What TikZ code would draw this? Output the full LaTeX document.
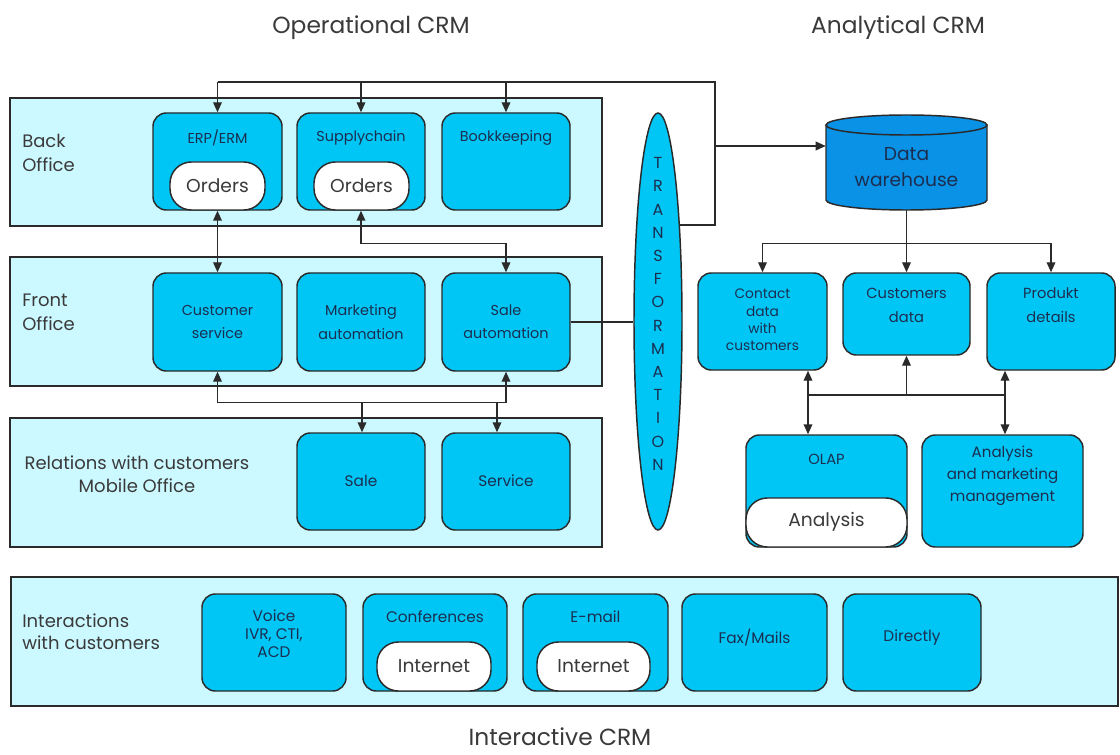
\documentclass[tikz,border=0pt]{standalone}
\usepackage{fontspec}
\setmainfont{Poppins}
\usetikzlibrary{arrows.meta,shapes.geometric,calc}
\definecolor{bandc}{HTML}{CCF8FF}
\definecolor{boxc}{HTML}{00C6F5}
\definecolor{dwc}{HTML}{0A92E6}
\definecolor{edgec}{HTML}{2A2A2A}
\definecolor{txtc}{HTML}{1C2E50}
\definecolor{gtxt}{HTML}{3A3A3A}
\tikzset{
  bandbox/.style={draw=edgec, line width=1.1pt, fill=bandc, rectangle, inner sep=0pt},
  ibox/.style={draw=edgec, line width=1.1pt, fill=boxc, rectangle, rounded corners=10pt, inner sep=0pt},
  pill/.style={draw=edgec, line width=1.1pt, fill=white, rectangle, rounded corners=16pt, inner sep=0pt},
  lbl/.style={text=gtxt, font=\fontsize{13.5}{18}\selectfont, inner sep=0pt},
  ttl/.style={text=gtxt, font=\fontsize{17.5}{20}\selectfont, inner sep=0pt},
  btxt/.style={text=txtc, font=\fontsize{10.8}{17.5}\selectfont, align=center, inner sep=0pt},
  itxt/.style={text=txtc, font=\fontsize{11.5}{13.5}\selectfont, align=center, inner sep=0pt},
  atxt/.style={text=txtc, font=\fontsize{11}{18}\selectfont, align=center, inner sep=0pt},
  ptxt/.style={text=gtxt, font=\fontsize{14}{16}\selectfont, inner sep=0pt},
  conn/.style={draw=edgec, line width=1.1pt},
  arr/.style={conn, -{Triangle[length=7.5pt,width=6.5pt]}},
  arrboth/.style={conn, {Triangle[length=7.5pt,width=6.5pt]}-{Triangle[length=7.5pt,width=6.5pt]}},
}
\newcommand\mkbox[6]{\node[#1, minimum width={(#4-#2)*0.75pt}, minimum height={(#5-#3)*0.75pt}] (#6) at ({(#2+#4)/2},{(#3+#5)/2}) {};}
\begin{document}
\begin{tikzpicture}[x=0.75pt,y=-0.75pt]
\useasboundingbox[fill=white] (0,0) rectangle (1120,755);
% titles
\node[ttl] (t1) at (371,28) {Operational CRM};
\node[ttl] (t2) at (898,28) {Analytical CRM};
\node[ttl] (t3) at (560,737) {Interactive CRM};
% bands
\mkbox{bandbox}{10}{98}{602}{226}{bo}
\mkbox{bandbox}{10}{257}{602}{386}{fo}
\mkbox{bandbox}{10}{418}{602}{547}{ro}
\mkbox{bandbox}{11}{577}{1118}{706}{io}
\node[lbl, anchor=west, align=left] (lbo) at (22,153) {Back\\Office};
\node[lbl, anchor=west, align=left] (lfo) at (22,312) {Front\\Office};
\node[lbl, align=center, font=\fontsize{13.5}{17.5}\selectfont] (lro) at (137,474) {Relations with customers\\Mobile Office};
\node[lbl, anchor=west, align=left, font=\fontsize{13.5}{16.5}\selectfont] (lio) at (22,632) {Interactions\\with customers};
% back office
\mkbox{ibox}{153}{113}{282}{210}{erp}
\mkbox{ibox}{297}{113}{425}{210}{sc}
\mkbox{ibox}{442}{113}{570}{210}{bk}
\mkbox{pill}{170}{162}{265}{210}{o1}
\mkbox{pill}{314}{162}{409}{210}{o2}
\node[btxt] (terp) at (217.5,138) {ERP/ERM};
\node[btxt] (tsc) at (361,138) {Supplychain};
\node[btxt] (tbk) at (506,138) {Bookkeeping};
\node[ptxt] (to1) at (217.5,186) {Orders};
\node[ptxt] (to2) at (361.5,186) {Orders};
% front office
\mkbox{ibox}{153}{273}{282}{371}{cs}
\mkbox{ibox}{297}{273}{425}{371}{ma}
\mkbox{ibox}{442}{273}{570}{371}{sa}
\node[btxt] (tcs) at (217.5,322) {Customer\\service};
\node[btxt] (tma) at (361,322) {Marketing\\automation};
\node[btxt] (tsa) at (506,322) {Sale\\automation};
% relations
\mkbox{ibox}{297}{433}{425}{530}{sale}
\mkbox{ibox}{442}{433}{570}{530}{serv}
\node[btxt, font=\fontsize{11.5}{14}\selectfont] (tsale) at (361,481) {Sale};
\node[btxt, font=\fontsize{11.5}{14}\selectfont] (tserv) at (506,481) {Service};
% interactions
\mkbox{ibox}{202}{594}{346}{691}{voice}
\mkbox{ibox}{363}{594}{507}{691}{conf}
\mkbox{ibox}{523}{594}{668}{691}{mail}
\mkbox{ibox}{682}{594}{827}{691}{fax}
\mkbox{ibox}{843}{594}{981}{691}{dir}
\mkbox{pill}{377}{642}{491}{691}{i1}
\mkbox{pill}{537}{642}{650}{691}{i2}
\node[itxt] (tvoice) at (274,634) {Voice\\IVR, CTI,\\ACD};
\node[itxt] (tconf) at (435,617) {Conferences};
\node[itxt] (tmail) at (595.5,617) {E-mail};
\node[ptxt] (ti1) at (434,666) {Internet};
\node[ptxt] (ti2) at (593.5,666) {Internet};
\node[itxt] (tfax) at (754.5,638) {Fax/Mails};
\node[itxt] (tdir) at (912,638) {Directly};
% transformation
\node[ellipse, draw=edgec, line width=1.1pt, fill=boxc, minimum width=36pt, minimum height=312.75pt, inner sep=0pt] (tr) at (658,321.5) {};
\node[text=txtc, font=\fontsize{12}{17.4}\selectfont, align=center, inner sep=0pt] (ttr) at (658,314) {T\\R\\A\\N\\S\\F\\O\\R\\M\\A\\T\\I\\O\\N};
% data warehouse
\node[inner sep=0pt, minimum width=120.75pt, minimum height=71.25pt] (dw) at (906.5,162.5) {};
\fill[dwc] (826,125) -- (826,200) arc[start angle=180,end angle=360,x radius=60.375pt,y radius=7.5pt] -- (987,125) arc[start angle=0,end angle=180,x radius=60.375pt,y radius=7.5pt] -- cycle;
\draw[conn] (826,125) -- (826,200) arc[start angle=180,end angle=360,x radius=60.375pt,y radius=7.5pt] -- (987,125);
\draw[conn] (906.5,125) ellipse[x radius=60.375pt,y radius=7.5pt];
\node[text=txtc, font=\fontsize{14}{19}\selectfont, align=center, inner sep=0pt] (tdw) at (906.5,167) {Data\\warehouse};
% analytical boxes
\mkbox{ibox}{698}{273}{827}{370}{cd}
\mkbox{ibox}{843}{273}{970}{355}{cdat}
\mkbox{ibox}{987}{273}{1115}{370}{pd}
\node[text=txtc, font=\fontsize{10.3}{13}\selectfont, align=center, inner sep=0pt] (tcd) at (762.5,320) {Contact\\data\\with\\customers};
\node[atxt] (tcdat) at (906.5,305) {Customers\\data};
\node[atxt] (tpd) at (1051,305) {Produkt\\details};
\mkbox{ibox}{746}{435}{907}{547}{olap}
\mkbox{pill}{746}{498}{907}{547}{anp}
\mkbox{ibox}{922}{435}{1083}{547}{am}
\node[atxt] (tolap) at (826.5,459) {OLAP};
\node[ptxt] (tanp) at (826.5,522) {Analysis};
\node[text=txtc, font=\fontsize{11.3}{16.5}\selectfont, align=center, inner sep=0pt] (tam) at (1002.5,476) {Analysis\\and marketing\\management};
% connectors
\coordinate (tbr) at (715,82);
\coordinate (tbd) at (715,225);
\coordinate (tdwin) at (715,146);
\draw[conn] (erp.north |- tbr) -- (tbr) -- (tbd) -- (tbd -| tr.77.7);
\draw[arr] (erp.north |- tbr) -- (erp.north);
\draw[arr] (sc.north |- tbr) -- (sc.north);
\draw[arr] (bk.north |- tbr) -- (bk.north);
\draw[arr] (tdwin) -- (tdwin -| dw.west);
\draw[arrboth] (erp.south) -- (cs.north);
\draw[arrboth] (sc.south) -- ++(0,33) -| (sa.north);
\draw[arrboth] (cs.south) -- ++(0,31) -| (sa.south);
\coordinate (r1) at (362,402);
\coordinate (r2) at (497,402);
\draw[arr] (r1) -- (r1 |- sale.north);
\draw[arr] (r2) -- (r2 |- serv.north);
\draw[conn] (sa.east) -- (sa.east -| tr.west);
\draw[conn] (dw.south) -- ++(0,33) coordinate (db);
\draw[conn] (cd.north |- db) -- (pd.north |- db);
\draw[arr] (cd.north |- db) -- (cd.north);
\draw[arr] (db) -- (cdat.north);
\draw[arr] (pd.north |- db) -- (pd.north);
\coordinate (a1) at (808,395);
\coordinate (a2) at (1005,395);
\draw[arrboth] (a1 |- cd.south) -- (a1 |- olap.north);
\draw[arrboth] (a2 |- pd.south) -- (a2 |- am.north);
\draw[conn] (a1) -- (a2);
\draw[arr] (cdat.south |- a1) -- (cdat.south);
\end{tikzpicture}
\end{document}
